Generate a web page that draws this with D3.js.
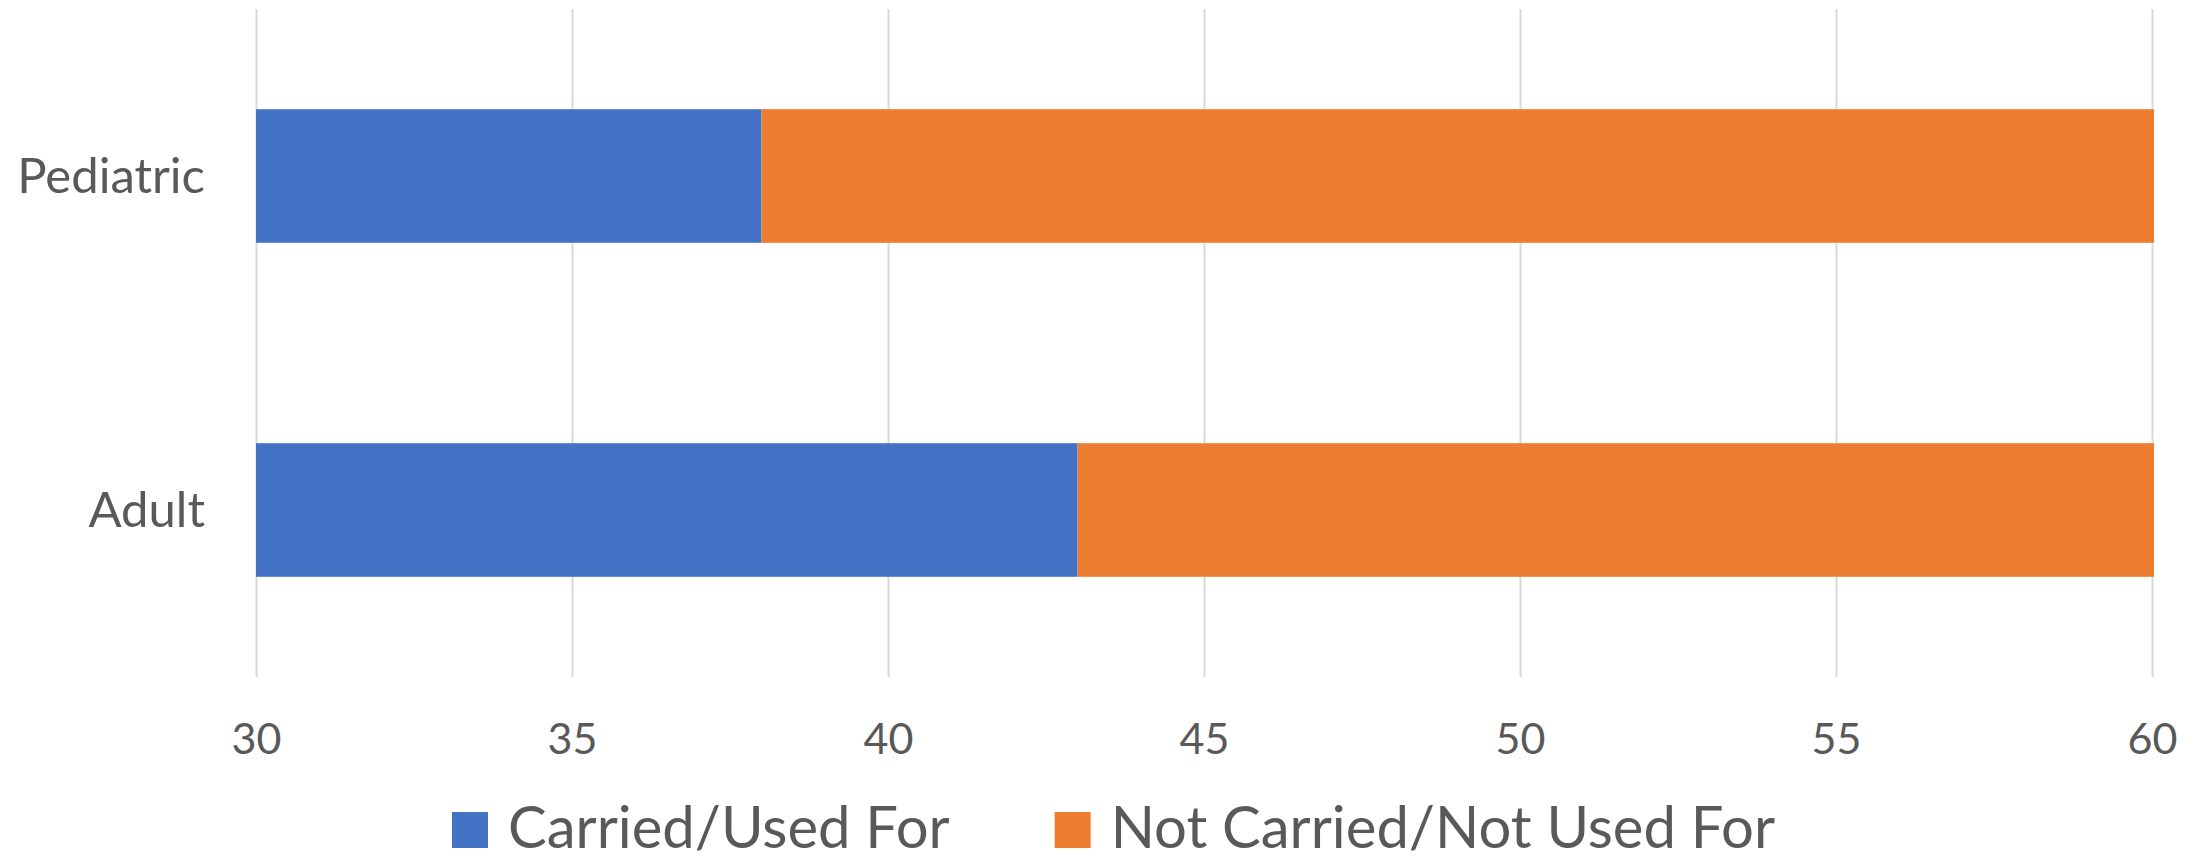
<!DOCTYPE html>
<html>
<head>
<meta charset="utf-8">
<script src="https://cdn.jsdelivr.net/npm/d3@7"></script>
<style>
  html, body { margin: 0; padding: 0; background: #fff; }
  svg { display: block; }
</style>
</head>
<body>
<div id="chart"></div>
<script>
// data
const categories = ["Pediatric", "Adult"];
const seriesNames = ["Carried/Used For", "Not Carried/Not Used For"];
const carried = [38, 43];
const notCarried = [22, 17];
const tickValues = [30, 35, 40, 45, 50, 55, 60];
const colors = ["#4472C4", "#ED7D31"];

const width = 2203;
const height = 859;
const marginTop = 9;
const marginRight = 51;
const marginBottom = 182;
const marginLeft = 256;
const textColor = "#595959";
const font = "Lato, 'Open Sans', sans-serif";

const rows = categories.map((c, i) => ({ cat: c, [seriesNames[0]]: carried[i], [seriesNames[1]]: notCarried[i] }));
const stacked = d3.stack().keys(seriesNames)(rows);

const x = d3.scaleLinear()
  .domain([30, 60])
  .range([marginLeft, width - marginRight])
  .clamp(true);

const y = d3.scaleBand()
  .domain(categories)
  .range([marginTop, height - marginBottom])
  .paddingInner(0.6)
  .paddingOuter(0.3);

const svg = d3.select("#chart")
  .append("svg")
  .attr("width", width)
  .attr("height", height)
  .attr("viewBox", [0, 0, width, height]);

// gridlines + tick labels
const xAxis = svg.append("g")
  .attr("transform", `translate(0,${height - marginBottom})`)
  .call(d3.axisBottom(x).tickValues(tickValues).tickSize(-(height - marginTop - marginBottom)).tickPadding(46))
  .call(g => g.select(".domain").remove());
xAxis.selectAll(".tick line").attr("stroke", "#d9d9d9").attr("stroke-width", 2);
xAxis.selectAll(".tick text")
  .attr("fill", textColor)
  .attr("font-family", font)
  .attr("font-size", 43);

// bars
svg.append("g")
  .selectAll("g")
  .data(stacked)
  .join("g")
    .attr("fill", (d, i) => colors[i])
  .selectAll("rect")
  .data(d => d)
  .join("rect")
    .attr("x", d => x(d[0]))
    .attr("y", d => y(d.data.cat))
    .attr("width", d => x(d[1]) - x(d[0]) + (d[1] >= 60 ? 2 : 0))
    .attr("height", y.bandwidth());

// category labels
svg.append("g")
  .selectAll("text")
  .data(categories)
  .join("text")
    .attr("x", 205)
    .attr("y", d => y(d) + y.bandwidth() / 2)
    .attr("dy", "0.35em")
    .attr("text-anchor", "end")
    .attr("fill", textColor)
    .attr("font-family", font)
    .attr("font-size", 49)
    .text(d => d);

// legend
const legend = svg.append("g").attr("transform", "translate(0,848)");
let lx = 452;
seriesNames.forEach((name, i) => {
  legend.append("rect")
    .attr("x", lx).attr("y", -36)
    .attr("width", 36).attr("height", 36)
    .attr("fill", colors[i]);
  const t = legend.append("text")
    .attr("x", lx + 56)
    .attr("y", 0)
    .attr("fill", textColor)
    .attr("font-family", font)
    .attr("font-size", 58)
    .text(name);
  lx += 56 + t.node().getComputedTextLength() + 105;
});
</script>
</body>
</html>
